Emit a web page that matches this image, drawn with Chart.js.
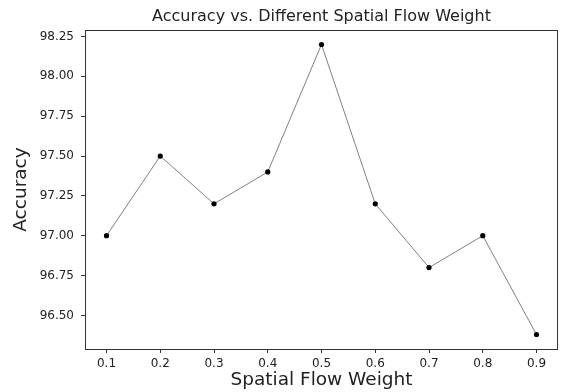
<!DOCTYPE html>
<html>
<head>
<meta charset="utf-8">
<script src="https://cdn.jsdelivr.net/npm/chart.js@4/dist/chart.umd.min.js"></script>
<style>
  html, body { margin: 0; padding: 0; background: #fff; }
  #wrap { width: 562px; height: 392px; }
</style>
</head>
<body>
<div id="wrap"><canvas id="acc-chart" width="562" height="392"></canvas></div>
<script>
const weights = [0.1, 0.2, 0.3, 0.4, 0.5, 0.6, 0.7, 0.8, 0.9];
const accuracy = [97.0, 97.5, 97.2, 97.4, 98.2, 97.2, 96.8, 97.0, 96.38];
const xTicks = [0.1, 0.2, 0.3, 0.4, 0.5, 0.6, 0.7, 0.8, 0.9];
const yTicks = [96.5, 96.75, 97.0, 97.25, 97.5, 97.75, 98.0, 98.25];

const FONT = "'DejaVu Sans', sans-serif";
const INK = "#222";

// matplotlib-style box around the axes
const frame = {
  id: "frame",
  afterDatasetsDraw(chart) {
    const { ctx, chartArea: a } = chart;
    ctx.save();
    ctx.strokeStyle = "#333";
    ctx.lineWidth = 1;
    ctx.strokeRect(a.left + 0.5, a.top + 0.5, a.right - a.left - 1, a.bottom - a.top);
    ctx.restore();
  },
};

const points = weights.map((w, i) => ({ x: w, y: accuracy[i] }));

new Chart(document.getElementById("acc-chart").getContext("2d"), {
  type: "line",
  data: {
    datasets: [{
      data: points,
      borderColor: "#808080",
      borderWidth: 1,
      backgroundColor: "#000",
      pointBackgroundColor: "#000",
      pointBorderWidth: 0,
      pointRadius: 2.6,
      tension: 0,
    }],
  },
  options: {
    responsive: false,
    animation: false,
    layout: { padding: { left: 0, right: 1, top: 0, bottom: 0 } },
    plugins: {
      legend: { display: false },
      tooltip: { enabled: false },
      title: {
        display: true,
        fullSize: false,
        text: "Accuracy vs. Different Spatial Flow Weight",
        color: INK,
        font: { family: FONT, size: 16, weight: "normal", lineHeight: 1 },
        padding: { top: 9, bottom: 5 },
      },
    },
    scales: {
      x: {
        type: "linear",
        min: 0.06,
        max: 0.94,
        afterBuildTicks: s => { s.ticks = xTicks.map(v => ({ value: v })); },
        afterFit: s => { s.height = 43; },
        grid: { display: true, drawOnChartArea: false, tickLength: 4, color: "#333" },
        border: { display: false },
        ticks: {
          color: INK,
          padding: 4,
          font: { family: FONT, size: 12 },
          maxRotation: 0,
          callback: v => Number(v).toFixed(1),
        },
        title: {
          display: true,
          text: "Spatial Flow Weight",
          color: INK,
          font: { family: FONT, size: 18.5 },
          padding: { top: 0, bottom: 1 },
        },
      },
      y: {
        type: "linear",
        min: 96.289,
        max: 98.291,
        afterBuildTicks: s => { s.ticks = yTicks.map(v => ({ value: v })); },
        afterFit: s => { s.width = 85; },
        grid: { display: true, drawOnChartArea: false, tickLength: 4, color: "#333" },
        border: { display: false },
        ticks: {
          color: INK,
          padding: 7,
          font: { family: FONT, size: 12 },
          callback: v => Number(v).toFixed(2),
        },
        title: {
          display: true,
          text: "Accuracy",
          color: INK,
          font: { family: FONT, size: 18.5 },
          padding: { top: 10, bottom: 0 },
        },
      },
    },
  },
  plugins: [frame],
});
</script>
</body>
</html>
